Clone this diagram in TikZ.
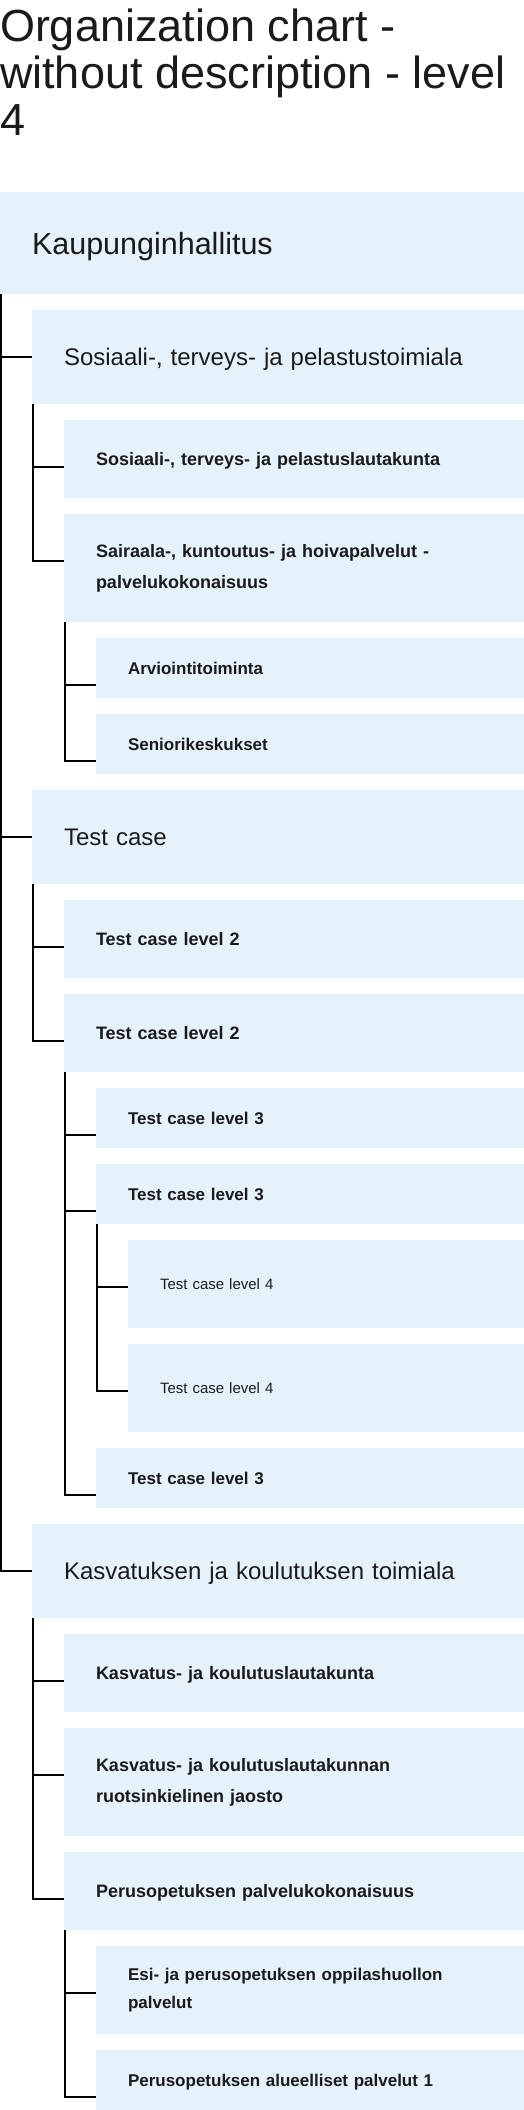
\documentclass[tikz,border=0pt]{standalone}
\usepackage{fontspec}
\setmainfont{Liberation Sans}
\usetikzlibrary{positioning}
\definecolor{boxblue}{RGB}{230,242,251}
\definecolor{inkgrey}{RGB}{26,26,26}

\begin{document}
\begin{tikzpicture}
[x=1pt,y=-1pt,
every node/.style={inner sep=0pt,outer sep=0pt,text=inkgrey},
unit/.style={fill=boxblue,anchor=north west,inner xsep=32pt,align=left,text depth=0pt},
twoline/.style={text depth=},
lvl0/.style={unit,text width=460pt,minimum height=102pt,font=\fontsize{30.5}{36}\selectfont},
lvl1/.style={unit,text width=428pt,minimum height=94pt,font=\fontsize{24}{29}\selectfont},
lvl2/.style={unit,text width=396pt,minimum height=78pt,font=\bfseries\fontsize{18}{31}\selectfont},
lvl3/.style={unit,text width=364pt,minimum height=60pt,font=\bfseries\fontsize{17}{28}\selectfont},
lvl4/.style={unit,text width=332pt,minimum height=88pt,font=\fontsize{15}{18}\selectfont},
branch/.style={draw=black,line width=2pt}]
\useasboundingbox (0,0) rectangle (524,2110);
\node (title) [anchor=north west,align=left,font=\fontsize{45}{46.7}\selectfont] at (0,9) {Organization chart -\\without description - level\\4};
\node (kh) [lvl0] at (0,192) {Kaupunginhallitus};
\node (sos) [lvl1,below right=16pt and 32pt of kh.south west] {Sosiaali-, terveys- ja pelastustoimiala};
\node (soslk) [lvl2,below right=16pt and 32pt of sos.south west] {Sosiaali-, terveys- ja pelastuslautakunta};
\node (shp) [lvl2,twoline,minimum height=108pt,below right=16pt and 0pt of soslk.south west] {Sairaala-, kuntoutus- ja hoivapalvelut -\\palvelukokonaisuus};
\node (arv) [lvl3,below right=16pt and 32pt of shp.south west] {Arviointitoiminta};
\node (sen) [lvl3,below right=16pt and 0pt of arv.south west] {Seniorikeskukset};
\node (tc) [lvl1,below right=16pt and -64pt of sen.south west] {Test case};
\node (tc2a) [lvl2,below right=16pt and 32pt of tc.south west] {Test case level 2};
\node (tc2b) [lvl2,below right=16pt and 0pt of tc2a.south west] {Test case level 2};
\node (tc3a) [lvl3,below right=16pt and 32pt of tc2b.south west] {Test case level 3};
\node (tc3b) [lvl3,below right=16pt and 0pt of tc3a.south west] {Test case level 3};
\node (tc4a) [lvl4,below right=16pt and 32pt of tc3b.south west] {Test case level 4};
\node (tc4b) [lvl4,below right=16pt and 0pt of tc4a.south west] {Test case level 4};
\node (tc3c) [lvl3,below right=16pt and -32pt of tc4b.south west] {Test case level 3};
\node (kasv) [lvl1,below right=16pt and -64pt of tc3c.south west] {Kasvatuksen ja koulutuksen toimiala};
\node (kasvlk) [lvl2,below right=16pt and 32pt of kasv.south west] {Kasvatus- ja koulutuslautakunta};
\node (jaos) [lvl2,twoline,minimum height=108pt,below right=16pt and 0pt of kasvlk.south west] {Kasvatus- ja koulutuslautakunnan\\ruotsinkielinen jaosto};
\node (perus) [lvl2,below right=16pt and 0pt of jaos.south west] {Perusopetuksen palvelukokonaisuus};
\node (esi) [lvl3,twoline,minimum height=88pt,below right=16pt and 32pt of perus.south west] {Esi- ja perusopetuksen oppilashuollon\\palvelut};
\node (alue) [lvl3,below right=16pt and 0pt of esi.south west] {Perusopetuksen alueelliset palvelut 1};
% branches from each unit down to its sub-units
\draw [branch] ([xshift=1pt]kh.south west) |- ([yshift=-47pt]sos.north west);
\draw [branch] ([xshift=1pt]kh.south west) |- ([yshift=-47pt]tc.north west);
\draw [branch] ([xshift=1pt]kh.south west) |- ([yshift=-47pt]kasv.north west);
\draw [branch] ([xshift=1pt]sos.south west) |- ([yshift=-47pt]soslk.north west);
\draw [branch] ([xshift=1pt]sos.south west) |- ([yshift=-47pt]shp.north west);
\draw [branch] ([xshift=1pt]shp.south west) |- ([yshift=-47pt]arv.north west);
\draw [branch] ([xshift=1pt]shp.south west) |- ([yshift=-47pt]sen.north west);
\draw [branch] ([xshift=1pt]tc.south west) |- ([yshift=-47pt]tc2a.north west);
\draw [branch] ([xshift=1pt]tc.south west) |- ([yshift=-47pt]tc2b.north west);
\draw [branch] ([xshift=1pt]tc2b.south west) |- ([yshift=-47pt]tc3a.north west);
\draw [branch] ([xshift=1pt]tc2b.south west) |- ([yshift=-47pt]tc3b.north west);
\draw [branch] ([xshift=1pt]tc2b.south west) |- ([yshift=-47pt]tc3c.north west);
\draw [branch] ([xshift=1pt]tc3b.south west) |- ([yshift=-47pt]tc4a.north west);
\draw [branch] ([xshift=1pt]tc3b.south west) |- ([yshift=-47pt]tc4b.north west);
\draw [branch] ([xshift=1pt]kasv.south west) |- ([yshift=-47pt]kasvlk.north west);
\draw [branch] ([xshift=1pt]kasv.south west) |- ([yshift=-47pt]jaos.north west);
\draw [branch] ([xshift=1pt]kasv.south west) |- ([yshift=-47pt]perus.north west);
\draw [branch] ([xshift=1pt]perus.south west) |- ([yshift=-47pt]esi.north west);
\draw [branch] ([xshift=1pt]perus.south west) |- ([yshift=-47pt]alue.north west);
\end{tikzpicture}
\end{document}
